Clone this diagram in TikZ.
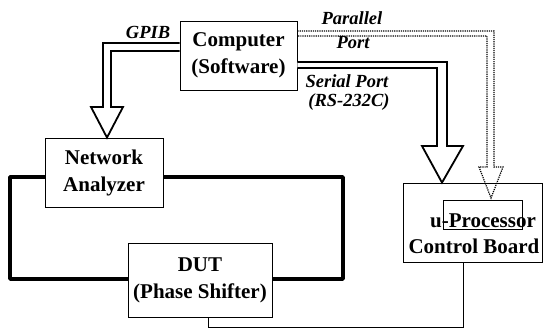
\documentclass[tikz,border=0pt]{standalone}
\usepackage{fontspec}
\setmainfont{Liberation Serif}
\begin{document}
\begin{tikzpicture}[x=1pt,y=-1pt,
  box/.style={draw,line width=0.8pt,rectangle,inner sep=0pt,font=\fontsize{21}{27}\selectfont\bfseries,align=center},
  btxt/.style={font=\fontsize{21}{27}\selectfont\bfseries,inner sep=0pt,anchor=base},
  lbl/.style={font=\fontsize{18.5}{21}\selectfont\bfseries\itshape,inner sep=0pt},
  chan/.style={draw,line width=1.8pt,fill=white,line join=miter},
  dchan/.style={draw,line width=1.2pt,densely dotted},
  loop/.style={draw,line width=3.4pt,line join=round},
  wire/.style={draw,line width=0.9pt}]
\useasboundingbox (0,0) rectangle (543,329);
% boxes
\node[box,minimum width=117pt,minimum height=69pt] (comp) at (238.5,55.5) {Computer\\(Software)};
\node[box,minimum width=118pt,minimum height=69pt] (na) at (104,172.5) {Network\\Analyzer};
\node[box,minimum width=144pt,minimum height=74pt] (dut) at (200,280) {DUT\\(Phase Shifter)};
\node[box,minimum width=139pt,minimum height=79pt] (cb) at (472.5,222.5) {};
\node[btxt] (ptxt) at (483,227) {u-Processor};
\node[btxt] (ctxt) at (474,253) {Control Board};
\node[draw,line width=0.9pt,minimum width=79pt,minimum height=29pt,inner sep=0pt] (proc) at (482.5,214.5) {};
% labels
\node[lbl] (gpib) at (148,32) {GPIB};
\node[lbl] (par1) at (352,18) {Parallel};
\node[lbl] (par2) at (353,43) {Port};
\node[lbl] (ser1) at (347,81) {Serial Port};
\node[lbl] (ser2) at (349,102) {(RS-232C)};
% thick loop
\draw[loop] (na.west |- 0,177) -- (10,177) -- (10,279) -- (dut.west |- 0,279);
\draw[loop] (na.east |- 0,177) -- (343,177) -- (343,279) -- (dut.east |- 0,279);
% thin wire
\draw[wire] (dut.south -| 208,0) -- (208,327) -- (463,327) -- (cb.south -| 463,0);
% GPIB hollow arrow
\path[chan] (comp.west |- 0,43) -- (103,43) -- (103,107) -- (91,107) -- (na.north -| 107,0) -- (123,107) -- (111,107) -- (111,51) -- (comp.west |- 0,51);
% Serial hollow arrow
\path[chan] (comp.east |- 0,62) -- (447,62) -- (447,146) -- (463,146) -- (cb.north -| 442,0) -- (422,146) -- (437,146) -- (437,68) -- (comp.east |- 0,68);
% Parallel dotted arrow
\path[dchan] (comp.east |- 0,31) -- (494,31) -- (494,167) -- (503,167) -- (491,198) -- (479,167) -- (487,167) -- (487,36) -- (comp.east |- 0,36);
\end{tikzpicture}
\end{document}
